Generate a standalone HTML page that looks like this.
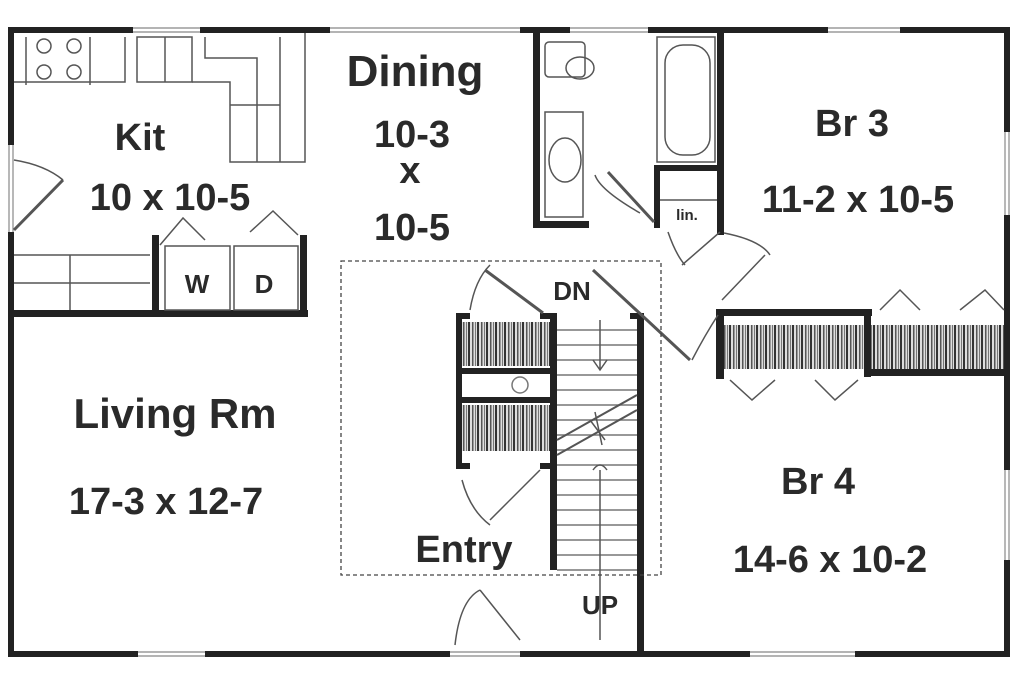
<!DOCTYPE html>
<html><head><meta charset="utf-8"><style>
html,body{margin:0;padding:0;background:#fff;}
svg{display:block;}
text{font-family:"Liberation Sans",Arial,sans-serif;font-weight:bold;fill:#2a2a2a;}
</style></head><body>
<svg width="1024" height="683" viewBox="0 0 1024 683" xmlns="http://www.w3.org/2000/svg">
<rect width="1024" height="683" fill="#fff"/>
<defs>
<pattern id="hang" width="9" height="10" patternUnits="userSpaceOnUse">
<rect width="9" height="10" fill="#ddd"/>
<rect x="0" width="2" height="10" fill="#333"/><rect x="4" width="1.5" height="10" fill="#555"/><rect x="7" width="1" height="10" fill="#777"/>
</pattern>
</defs>
<!-- windows -->
<g fill="none" stroke="#888" stroke-width="1.2">
<path d="M133 28H200 M133 32H200 M330 28H520 M330 32H520 M570 28H648 M570 32H648 M828 28H900 M828 32H900"/>
<path d="M138 652H205 M138 656H205 M450 652H520 M450 656H520 M750 652H855 M750 656H855"/>
<path d="M1005 132V215 M1009 132V215 M1005 470V560 M1009 470V560"/>
<path d="M9 145V232 M13 145V232"/>
</g>
<g fill="#222">
<rect x="8" y="27" width="125" height="6"/>
<rect x="200" y="27" width="130" height="6"/>
<rect x="520" y="27" width="50" height="6"/>
<rect x="648" y="27" width="180" height="6"/>
<rect x="900" y="27" width="110" height="6"/>
<rect x="8" y="27" width="6" height="118"/>
<rect x="8" y="232" width="6" height="425"/>
<rect x="8" y="651" width="130" height="6"/>
<rect x="205" y="651" width="245" height="6"/>
<rect x="520" y="651" width="230" height="6"/>
<rect x="855" y="651" width="155" height="6"/>
<rect x="1004" y="27" width="6" height="105"/>
<rect x="1004" y="215" width="6" height="255"/>
<rect x="1004" y="560" width="6" height="97"/>
<rect x="8" y="310" width="300" height="7"/>
<rect x="152" y="235" width="7" height="80"/>
<rect x="300" y="235" width="7" height="80"/>
<rect x="533" y="30" width="7" height="197"/>
<rect x="533" y="221" width="56" height="7"/>
<rect x="717" y="30" width="7" height="205"/>
<rect x="654" y="165" width="68" height="6"/>
<rect x="654" y="165" width="6" height="63"/>
<rect x="716" y="309" width="156" height="7"/>
<rect x="716" y="309" width="8" height="70"/>
<rect x="864" y="309" width="7" height="68"/>
<rect x="864" y="369" width="146" height="7"/>
<rect x="637" y="313" width="7" height="342"/>
<rect x="550" y="313" width="7" height="257"/>
<rect x="630" y="313" width="14" height="6"/>
<rect x="540" y="313" width="17" height="6"/>
<rect x="456" y="313" width="6" height="155"/>
<rect x="456" y="313" width="14" height="6"/>
<rect x="456" y="463" width="14" height="6"/>
<rect x="540" y="463" width="14" height="6"/>
<rect x="456" y="368" width="98" height="6"/>
<rect x="456" y="397" width="98" height="6"/>
</g>
<rect x="462" y="322" width="88" height="44" fill="url(#hang)"/>
<rect x="462" y="405" width="88" height="46" fill="url(#hang)"/>
<rect x="724" y="325" width="140" height="44" fill="url(#hang)"/>
<rect x="871" y="325" width="133" height="44" fill="url(#hang)"/>
<circle cx="520" cy="385" r="8" fill="none" stroke="#777" stroke-width="1.5"/>
<g fill="none" stroke="#555" stroke-width="1.5">
<path d="M14 82 H125 V37 M26 37 V85 M90 37 V85"/>
<circle cx="44" cy="46" r="7"/><circle cx="74" cy="46" r="7"/><circle cx="44" cy="72" r="7"/><circle cx="74" cy="72" r="7"/>
<rect x="137" y="37" width="55" height="45"/><line x1="165" y1="37" x2="165" y2="82"/>
<path d="M192 82 H230 V162 H305 V33 M205 37 V58 H257 V162 M280 37 V162 M230 105 H280"/>
<path d="M14 255 H150 M14 283 H150 M70 255 V310"/>
<rect x="165" y="246" width="65" height="64"/><rect x="234" y="246" width="64" height="64"/>
<path d="M160 245 L183 218 L205 240 M250 232 L273 211 L298 235"/>
<path d="M14 160 Q45 165 63 180"/>
<path d="M14 230 L63 180" stroke-width="3"/>
<rect x="545" y="42" width="40" height="35" rx="4"/><ellipse cx="580" cy="68" rx="14" ry="11"/>
<rect x="545" y="112" width="38" height="105"/><ellipse cx="565" cy="160" rx="16" ry="22"/>
<rect x="657" y="37" width="58" height="125"/><rect x="665" y="45" width="45" height="110" rx="18"/>
<path d="M660 200 H717"/>
<path d="M595 175 Q600 190 640 213" /><path d="M608 172 L654 222" stroke-width="3"/>
<path d="M668 232 Q676 255 685 265 M682 265 L720 232" />
<path d="M724 233 Q760 240 770 255 M722 300 L765 255"/>
<path d="M880 310 L900 290 L920 310 M960 310 L985 290 L1004 310"/>
<path d="M730 380 L752 400 L775 380 M815 380 L835 400 L858 380"/>
<g stroke="#777">
<path d="M557 330H637 M557 345H637 M557 360H637 M557 375H637 M557 390H637 M557 405H637 M557 420H637 M557 435H637 M557 450H637 M557 465H637 M557 480H637 M557 495H637 M557 510H637 M557 525H637 M557 540H637 M557 555H637 M557 570H637"/>
</g>
<path d="M557 440 L637 395 M557 455 L637 410" stroke-width="2"/>
<path d="M600 320 V370 M593 360 L600 370 L607 360"/>
<path d="M600 470 V640 M593 470 Q600 460 607 470"/>
<path d="M590 420 L605 440 M595 412 L602 445"/>
<path d="M485 270 L543 313" stroke-width="3"/><path d="M470 310 Q475 280 490 265"/>
<path d="M462 480 Q470 510 490 525 M490 520 L540 470" />
<path d="M593 270 L690 360" stroke-width="3"/>
<path d="M692 360 Q705 335 718 315"/>
<path d="M455 645 Q460 600 480 590 M480 590 L520 640" />
</g>
<rect x="341" y="261" width="320" height="314" fill="none" stroke="#444" stroke-width="1.3" stroke-dasharray="4,3"/>
<text x="415" y="86" font-size="44" text-anchor="middle">Dining</text>
<text x="412" y="147" font-size="38" text-anchor="middle">10-3</text>
<text x="410" y="183" font-size="38" text-anchor="middle">x</text>
<text x="412" y="240" font-size="38" text-anchor="middle">10-5</text>
<text x="140" y="150" font-size="38" text-anchor="middle">Kit</text>
<text x="170" y="210" font-size="38" text-anchor="middle">10 x 10-5</text>
<text x="197" y="293" font-size="26" text-anchor="middle">W</text>
<text x="264" y="293" font-size="26" text-anchor="middle">D</text>
<text x="852" y="136" font-size="38" text-anchor="middle">Br 3</text>
<text x="858" y="212" font-size="38" text-anchor="middle">11-2 x 10-5</text>
<text x="687" y="220" font-size="15" text-anchor="middle">lin.</text>
<text x="175" y="428" font-size="42" text-anchor="middle">Living Rm</text>
<text x="166" y="514" font-size="38" text-anchor="middle">17-3 x 12-7</text>
<text x="818" y="494" font-size="38" text-anchor="middle">Br 4</text>
<text x="830" y="572" font-size="38" text-anchor="middle">14-6 x 10-2</text>
<text x="464" y="562" font-size="38" text-anchor="middle">Entry</text>
<text x="572" y="300" font-size="26" text-anchor="middle">DN</text>
<text x="600" y="614" font-size="26" text-anchor="middle">UP</text>
</svg>
</body></html>
